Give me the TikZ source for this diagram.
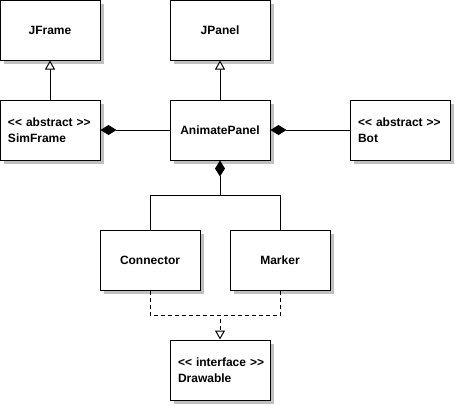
\documentclass[tikz,border=0pt]{standalone}
\usepackage{fontspec}
\setmainfont{Liberation Sans}
\usepackage{tikz}
\usetikzlibrary{arrows.meta,shadows}
\definecolor{ShadowGray}{HTML}{C0C0C0}
\newcommand{\stereotype}[1]{\mbox{{<}{<} #1 {>}{>}}}

\begin{document}
\begin{tikzpicture}[x=1pt, y=-1pt,
    classbox/.style={draw=black, fill=white, line width=1pt, minimum width=100pt, minimum height=60pt, inner xsep=8pt, text width=84pt, font=\fontsize{12}{15.5}\selectfont\bfseries, drop shadow={shadow xshift=4pt, shadow yshift=-4pt, fill=ShadowGray, opacity=1}},
    plain/.style={classbox, align=center},
    stereo/.style={classbox, align=left},
    inherit/.style={-{Triangle[open, length=9pt, width=10pt, fill=white]}, line width=1pt},
    compose/.style={-{Diamond[length=16pt, width=10pt]}, line width=1pt},
    realize/.style={inherit, dash pattern=on 4pt off 3pt}
  ]
    \useasboundingbox (0,0) rectangle (455,405);

    \node[plain] (jframe) at (50,30) {JFrame};
    \node[plain] (jpanel) at (220,30) {JPanel};
    \node[stereo] (simframe) at (50,130) {\stereotype{abstract}\\SimFrame};
    \node[plain] (animate) at (220,130) {AnimatePanel};
    \node[stereo] (bot) at (400,130) {\stereotype{abstract}\\Bot};
    \node[plain] (connector) at (150,260) {Connector};
    \node[plain] (marker) at (280,260) {Marker};
    \node[stereo] (drawable) at (220,370) {\stereotype{interface}\\Drawable};

    \coordinate (split) at (220,195);
    \coordinate (join) at (220,315);

    \draw[inherit] (simframe) -- (jframe);
    \draw[inherit] (animate) -- (jpanel);
    \draw[compose] (animate) -- (simframe);
    \draw[compose] (bot) -- (animate);
    \draw[compose] (connector.north) |- (split) -- (animate.south);
    \draw[line width=1pt] (marker.north) |- (split);
    \draw[realize] (connector.south) |- (join) -- (drawable.north);
    \draw[line width=1pt, dash pattern=on 4pt off 3pt] (marker.south) |- (join);
\end{tikzpicture}
\end{document}
